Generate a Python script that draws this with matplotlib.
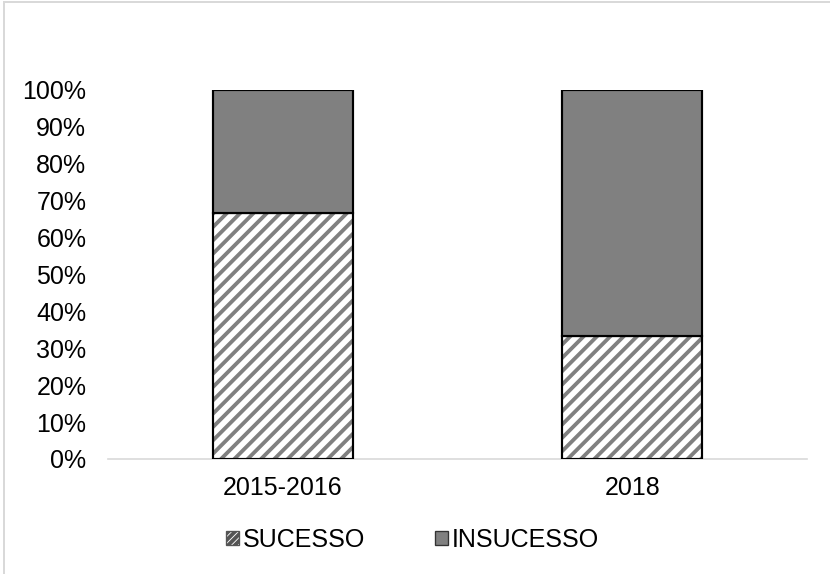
import numpy as np
import matplotlib.pyplot as plt
from matplotlib.lines import Line2D
from matplotlib.patches import Patch
from matplotlib.ticker import PercentFormatter

plt.rcParams['font.family'] = ['Liberation Sans', 'DejaVu Sans']
plt.rcParams['hatch.linewidth'] = 2.3

# dados
anos = ['2015-2016', '2018']
sucesso = [66.7, 33.3]
insucesso = [33.3, 66.7]

W, H, DPI = 830, 574, 120
fig = plt.figure(figsize=(W / DPI, H / DPI), dpi=DPI)
ax = fig.add_axes([108 / W, 1 - 459 / H, (807 - 108) / W, (459 - 90) / H])

x = np.arange(len(anos))
# tracejado cinza (a cor do hatch vem do edgecolor)
ax.bar(x, sucesso, width=0.4, color='white', edgecolor='#808080',
       linewidth=0, hatch='///', zorder=3)
ax.bar(x, sucesso, width=0.4, fill=False, edgecolor='black',
       linewidth=1.3, zorder=4)
ax.bar(x, insucesso, width=0.4, bottom=sucesso, color='#808080',
       edgecolor='black', linewidth=1.3, zorder=4)

ax.set_xlim(-0.5, 1.5)
ax.set_ylim(0, 100)
ax.set_yticks(np.arange(0, 101, 10))
ax.yaxis.set_major_formatter(PercentFormatter(decimals=0))
ax.set_xticks(x)
ax.set_xticklabels(anos)
ax.tick_params(axis='both', length=0, labelsize=15, colors='black')
ax.tick_params(axis='y', pad=13)
ax.tick_params(axis='x', pad=10)

for s in ['top', 'right', 'left']:
    ax.spines[s].set_visible(False)
ax.spines['bottom'].set_color('#d9d9d9')
ax.spines['bottom'].set_linewidth(1.0)

handles = [Patch(facecolor='white', edgecolor='#555555', hatch='//////',
                 linewidth=0.8, label='SUCESSO'),
           Patch(facecolor='#808080', edgecolor='#333333',
                 linewidth=0.8, label='INSUCESSO')]
ax.legend(handles=handles, loc='center', bbox_to_anchor=(0.497, 1 - 540 / H),
          bbox_transform=fig.transFigure, ncol=2, frameon=False,
          fontsize=15, handlelength=0.5, handleheight=0.5,
          handletextpad=0.15, columnspacing=2.8)

# moldura cinza do gráfico
fig.add_artist(Line2D([4 / W, 1], [1 - 1.5 / H, 1 - 1.5 / H],
                      transform=fig.transFigure, color='#d9d9d9', lw=1.2))
fig.add_artist(Line2D([4 / W, 4 / W], [0, 1 - 1.5 / H],
                      transform=fig.transFigure, color='#d9d9d9', lw=1.2))

fig.savefig('out.png', dpi=DPI)
